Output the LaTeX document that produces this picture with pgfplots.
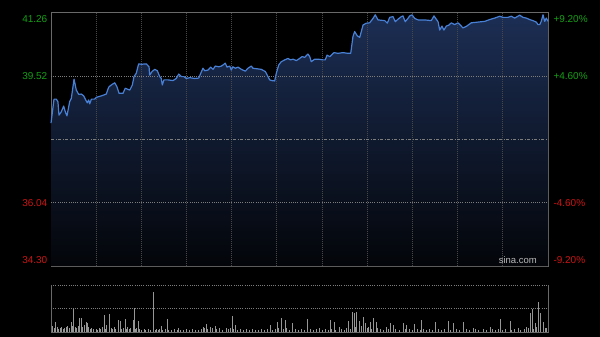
\documentclass[border=0pt]{standalone}
\usepackage{pgfplots}
\usepackage{pgfplotstable}
\pgfplotsset{compat=1.18}
\usepackage{fontspec}
\setmainfont{Liberation Sans}
\definecolor{frameC}{RGB}{105,105,105}
\definecolor{vgrid}{RGB}{72,72,72}
\definecolor{hgrid}{RGB}{125,125,125}
\definecolor{priceline}{RGB}{72,128,214}
\definecolor{fillTop}{RGB}{28,46,84}
\definecolor{fillBot}{RGB}{3,5,9}
\definecolor{upgreen}{RGB}{20,160,20}
\definecolor{downred}{RGB}{205,20,20}
\definecolor{volbar}{RGB}{150,150,150}
\definecolor{wm}{RGB}{185,185,185}

\pgfplotstableread{
m p
0 38.23
2.0 38.89
3.5 38.89
4.6 38.82
5.3 38.45
6.8 38.54
8.4 38.70
9.5 38.54
10.6 38.43
12.4 38.82
13.5 38.91
15.3 39.44
16.8 39.14
18.4 39.02
20.1 39.03
21.7 38.98
23.0 38.87
24.1 38.79
25.0 38.87
25.7 38.76
26.8 38.89
29.0 38.89
30.1 38.94
33.4 38.98
36.7 39.03
38.3 39.22
40.0 39.28
42.3 39.34
43.8 39.23
45.2 39.05
47.8 39.05
49.3 39.19
52.3 39.14
54.0 39.28
55.1 39.51
56.6 39.60
58.2 39.86
60.0 39.85
63.3 39.86
65.1 39.78
65.5 39.55
67.1 39.65
68.9 39.71
70.6 39.67
72.2 39.51
73.2 39.46
73.9 39.28
75.0 39.42
77.7 39.42
81.0 39.40
83.2 39.46
84.8 39.58
86.5 39.51
88.3 39.51
89.8 39.46
92.1 39.48
95.4 39.46
98.1 39.47
99.4 39.60
100.9 39.74
102.1 39.67
104.2 39.69
106.0 39.77
107.6 39.71
109.1 39.80
111.4 39.78
113.1 39.80
114.2 39.83
115.7 39.88
116.9 39.77
118.7 39.80
119.7 39.69
120.8 39.78
122.4 39.74
124.2 39.77
126.4 39.71
129.0 39.66
130.8 39.74
133.0 39.80
134.1 39.74
139.6 39.71
142.3 39.65
144.1 39.51
145.2 39.42
146.7 39.40
148.5 39.39
149.6 39.60
151.2 39.83
152.9 39.92
155.2 39.97
157.4 40.01
158.9 39.97
160.7 39.99
162.9 39.95
165.1 40.01
166.7 40.06
168.5 40.04
170.6 40.13
171.8 40.06
172.8 39.92
175.1 39.99
177.3 39.99
180.6 39.97
182.1 39.97
183.3 40.10
185.1 40.06
187.9 40.17
190.6 40.15
193.9 40.17
197.2 40.15
199.0 40.15
200.5 40.61
201.6 40.75
203.4 40.63
205.0 40.59
207.2 40.93
209.4 40.98
211.6 40.99
213.8 41.11
215.3 41.21
217.1 41.07
221.6 41.05
223.3 40.98
224.9 41.14
227.1 41.16
228.6 41.02
230.4 41.09
232.6 41.16
233.7 41.18
235.2 41.02
236.6 41.09
238.2 41.18
239.7 41.21
241.5 41.11
243.7 41.07
248.1 41.07
252.5 41.05
254.3 41.18
255.8 41.09
257.0 41.02
258.1 40.79
259.6 40.90
260.9 40.79
262.5 40.90
264.3 40.93
265.8 40.99
268.0 40.94
270.2 40.99
272.0 40.92
273.5 40.85
275.7 40.89
279.1 40.99
283.5 41.01
288.0 41.03
291.3 41.08
294.6 41.12
297.9 41.17
300.1 41.14
303.4 41.14
305.6 41.17
307.9 41.12
311.2 41.20
313.4 41.14
315.6 41.12
317.8 41.08
320.0 41.05
322.2 41.01
323.4 40.94
324.5 40.94
325.5 41.03
326.7 41.21
327.8 41.03
328.9 41.12
330.0 41.03
}\pricetable

\pgfplotstableread{
m v
1 6
2 4
4 5
5 3
6 4
7 5
8 3
9 4
10 5
11 6
12 4
14 6
16 5
17 4
18 6
21 5
22 7
24 4
25 5
26 3
27 4
28 3
30 3
31 2
32 4
33 3
34 5
36 3
37 4
39 3
40 4
41 3
42 5
43 3
45 4
47 3
48 4
50 3
51 5
52 3
53 4
56 3
57 4
59 3
60 2
62 3
63 2
65 3
66 2
69 2
70 3
71 2
72 3
74 2
76 3
78 2
80 2
82 3
84 2
86 2
88 2
90 2
92 2
94 3
96 2
98 2
100 3
102 4
104 3
106 5
107 4
110 3
112 4
114 2
118 3
119 4
121 3
124 2
126 3
128 2
130 3
132 2
134 3
136 2
138 2
140 3
142 2
144 3
147 2
149 3
151 4
154 3
156 4
158 2
162 3
164 2
166 3
168 2
172 3
174 2
176 3
178 4
180 2
182 3
184 2
186 3
189 2
193 3
195 2
196 4
199 3
202 5
206 6
210 4
211 5
213 3
217 4
219 3
221 2
224 3
229 3
231 2
235 3
238 3
240 2
243 3
245 2
247 3
249 2
251 3
253 2
257 3
259 2
261 3
265 2
269 3
271 2
276 3
278 2
282 3
284 2
287 3
289 2
293 3
295 2
297 3
300 2
302 3
306 2
308 3
312 2
314 3
317 4
320 3
322 5
325 6
327 5
328 4
330 3
3.1 10
13.3 10
14.8 23
18.6 14
19.9 14
23.2 10
24.4 9
35.4 17
36.5 7
38.5 18
44.7 12
46.3 11
49.6 13
54.6 12
55.3 24
58.0 11
67.9 40
73.0 6
77.5 13
84.5 4
89.6 3
100.9 5
103.4 8
108.9 6
116.7 4
120.6 16
122.6 7
145.9 7
150.5 10
152.7 14
155.4 12
160.5 9
170.2 13
185.3 12
187.9 10
191.2 5
197.4 11
200.3 20
201.4 19
203.0 20
204.7 11
207.4 15
208.5 9
212.3 10
214.0 14
215.8 10
222.4 5
225.6 9
227.3 7
233.9 9
236.2 7
241.0 8
245.9 12
255.0 10
263.8 11
267.1 9
273.8 10
280.4 4
291.5 5
298.1 13
304.8 11
310.3 4
315.9 5
318.0 19
319.6 23
321.4 9
323.6 30
324.7 19
326.9 10
329.1 4
}\voltable

\begin{document}
\begin{tikzpicture}
\fill[black] (0,0) rectangle (600bp,337bp);
\path[use as bounding box] (0,0) rectangle (600bp,337bp);

% ---------- price panel ----------
\begin{axis}[
  at={(51bp,71bp)}, anchor=south west,
  scale only axis, width=497bp, height=253bp,
  xmin=0, xmax=330, ymin=34.30, ymax=41.26,
  xtick={30,60,...,300}, ytick={36.04,37.78,39.52},
  xticklabels={}, yticklabels={},
  major tick length=0pt,
  axis line style={frameC, line width=1bp},
  clip=false,
]
\addplot[draw=none, top color=fillTop, bottom color=fillBot]
  table[x=m, y=p] {\pricetable} \closedcycle;
% grid drawn above the area fill
\pgfplotsinvokeforeach{30,60,...,300}{
  \draw[vgrid, line width=0.9bp, dash pattern=on 1bp off 1bp] (axis cs:#1,34.30) -- (axis cs:#1,41.26);
}
\pgfplotsinvokeforeach{36.04,39.52}{
  \draw[hgrid, line width=0.8bp, dash pattern=on 1bp off 1.2bp] (axis cs:0,#1) -- (axis cs:330,#1);
}
\draw[hgrid, line width=0.9bp, dash pattern=on 3bp off 1.5bp on 1bp off 1.5bp] (axis cs:0,37.78) -- (axis cs:330,37.78);
\addplot[priceline, line width=1.2bp, line join=round] table[x=m, y=p] {\pricetable};

\node[anchor=east, text=upgreen, inner sep=0pt, font=\fontsize{10bp}{12bp}\selectfont] at (axis cs:0,41.26) [xshift=-3.5bp, yshift=-6bp] {41.26};
\node[anchor=east, text=upgreen, inner sep=0pt, font=\fontsize{10bp}{12bp}\selectfont] at (axis cs:0,39.52) [xshift=-3.5bp] {39.52};
\node[anchor=east, text=downred, inner sep=0pt, font=\fontsize{10bp}{12bp}\selectfont] at (axis cs:0,36.04) [xshift=-3.5bp] {36.04};
\node[anchor=east, text=downred, inner sep=0pt, font=\fontsize{10bp}{12bp}\selectfont] at (axis cs:0,34.30) [xshift=-3.5bp, yshift=6bp] {34.30};
\node[anchor=west, text=upgreen, inner sep=0pt, font=\fontsize{10bp}{12bp}\selectfont] at (axis cs:330,41.26) [xshift=5.3bp, yshift=-6bp] {+9.20\%};
\node[anchor=west, text=upgreen, inner sep=0pt, font=\fontsize{10bp}{12bp}\selectfont] at (axis cs:330,39.52) [xshift=5.3bp] {+4.60\%};
\node[anchor=west, text=downred, inner sep=0pt, font=\fontsize{10bp}{12bp}\selectfont] at (axis cs:330,36.04) [xshift=5.3bp] {-4.60\%};
\node[anchor=west, text=downred, inner sep=0pt, font=\fontsize{10bp}{12bp}\selectfont] at (axis cs:330,34.30) [xshift=5.3bp, yshift=6bp] {-9.20\%};
\node[anchor=east, text=wm, inner sep=0pt, font=\fontsize{9.5bp}{11bp}\selectfont] at (axis cs:330,34.30) [xshift=-11bp, yshift=5.5bp] {sina.com};
\end{axis}

% ---------- volume panel ----------
\begin{axis}[
  at={(51bp,5bp)}, anchor=south west,
  scale only axis, width=497bp, height=47bp,
  xmin=0, xmax=330, ymin=0, ymax=47,
  xtick=\empty, ytick={23.5,47},
  yticklabels={},
  major tick length=0pt,
  ymajorgrids,
  y grid style={hgrid, line width=0.8bp, dash pattern=on 1bp off 1.2bp},
  axis line style={draw=none},
  clip=false,
]
\addplot[ycomb, volbar, line width=0.8bp, mark=none] table[x=m, y=v] {\voltable};
\draw[frameC, line width=1bp] (axis cs:0,47) -- (axis cs:0,0) -- (axis cs:330,0) -- (axis cs:330,47);
\end{axis}
\end{tikzpicture}
\end{document}
